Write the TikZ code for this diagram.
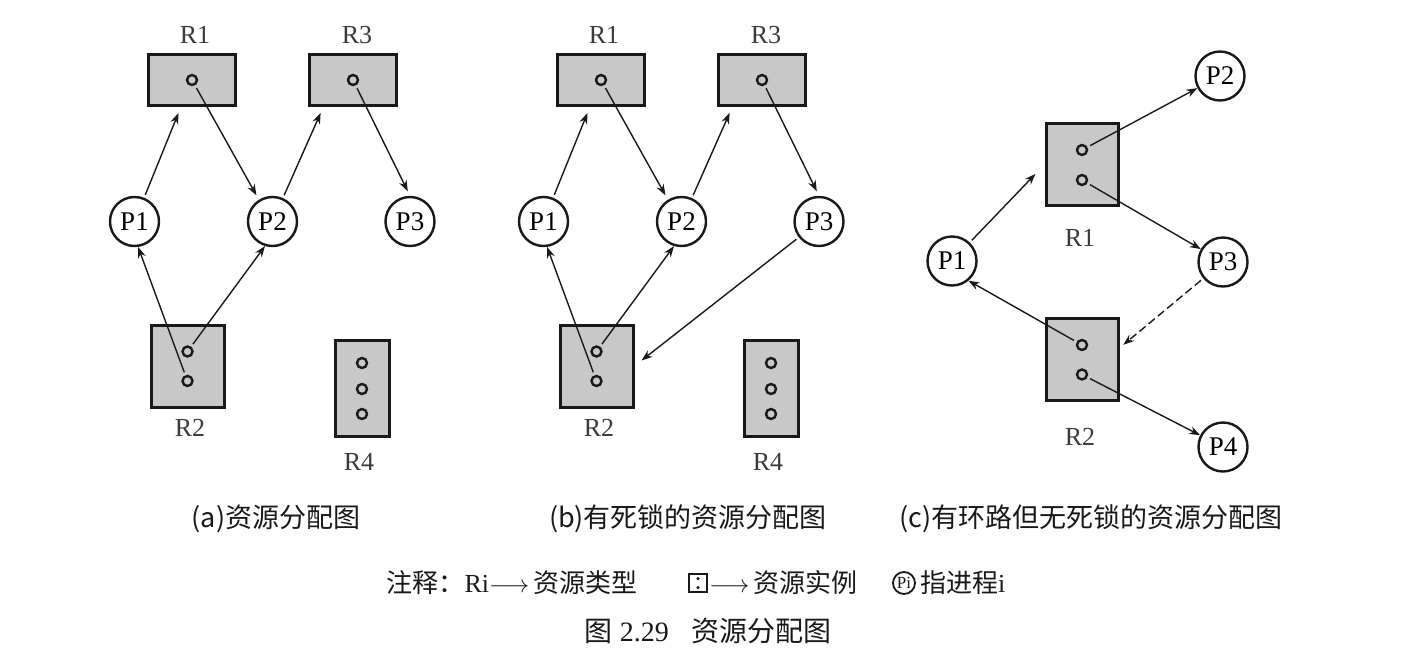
\documentclass[tikz,border=0pt]{standalone}
\usepackage{fontspec}
\setmainfont{Liberation Serif}
\newfontfamily\cjk{Noto Sans CJK SC}
\usetikzlibrary{arrows.meta,calc}
\definecolor{resgray}{RGB}{200,200,200}
\definecolor{ink}{RGB}{25,25,25}
\begin{document}
\begin{tikzpicture}[x=1pt,y=-1pt,
  res/.style={draw=ink,line width=3pt,fill=resgray,inner sep=0pt},
  resA/.style={res,minimum width=87pt,minimum height=51pt},
  resB/.style={res,minimum width=73pt,minimum height=82pt},
  resC/.style={res,minimum width=54pt,minimum height=96pt},
  resD/.style={res,minimum width=72pt,minimum height=82pt},
  proc/.style={draw=ink,line width=2.4pt,circle,minimum size=49pt,inner sep=0pt,fill=white,font=\fontsize{27}{27}\selectfont},
  inst/.style={draw=ink,line width=2.4pt,circle,minimum size=10pt,inner sep=0pt},
  lab/.style={text=ink!85,font=\fontsize{26}{26}\selectfont},
  subcap/.style={text=ink,font=\fontsize{27}{27}\selectfont\cjk},
  arr/.style={draw=ink,line width=1.4pt,shorten <=3pt,-{Stealth[length=11pt,width=8pt]}},
]
\fill[white] (0,0) rectangle (1417,662);
\useasboundingbox (0,0) rectangle (1417,662);

% ---------------- (a) ----------------
\node[resA] (aR1) at (192,79.5) {};
\node[resA] (aR3) at (352.5,79.5) {};
\node[resB] (aR2) at (187.5,366) {};
\node[resC] (aR4) at (362,388) {};
\node[inst] (aR1d) at (192,80) {};
\node[inst] (aR3d) at (353,80) {};
\node[inst] (aR2a) at (187.5,351.5) {};
\node[inst] (aR2b) at (187.5,381) {};
\node[inst] (aR4a) at (362,363) {};
\node[inst] (aR4b) at (362,389) {};
\node[inst] (aR4c) at (362,414) {};
\node[proc] (aP1) at (134.5,221.5) {P1};
\node[proc] (aP2) at (272.5,221.5) {P2};
\node[proc] (aP3) at (410,221.5) {P3};
\node[lab] (aL1) at (195,35) {R1};
\node[lab] (aL3) at (357,35) {R3};
\node[lab] (aL2) at (190,428) {R2};
\node[lab] (aL4) at (359,462) {R4};
\draw[arr,shorten >=7pt] (aP1) -- (aR1);
\draw[arr,shorten >=5pt] (aR1d) -- (aP2.122);
\draw[arr,shorten >=7pt] (aP2) -- ([xshift=16pt]aR3.south west);
\draw[arr,shorten >=5pt] (aR3d) -- (aP3.north);
\draw[arr] (aR2b) -- (aP1.-82);
\draw[arr] (aR2a) -- (aP2.-107);

% ---------------- (b) ----------------
\node[resA] (bR1) at (601,79.5) {};
\node[resA] (bR3) at (761.5,79.5) {};
\node[resB] (bR2) at (596.5,366) {};
\node[resC] (bR4) at (771,388) {};
\node[inst] (bR1d) at (601,80) {};
\node[inst] (bR3d) at (762,80) {};
\node[inst] (bR2a) at (596.5,351.5) {};
\node[inst] (bR2b) at (596.5,381) {};
\node[inst] (bR4a) at (771,363) {};
\node[inst] (bR4b) at (771,389) {};
\node[inst] (bR4c) at (771,414) {};
\node[proc] (bP1) at (543.5,221.5) {P1};
\node[proc] (bP2) at (681.5,221.5) {P2};
\node[proc] (bP3) at (819,221.5) {P3};
\node[lab] (bL1) at (604,35) {R1};
\node[lab] (bL3) at (766,35) {R3};
\node[lab] (bL2) at (599,428) {R2};
\node[lab] (bL4) at (768,462) {R4};
\draw[arr,shorten >=7pt] (bP1) -- (bR1);
\draw[arr,shorten >=5pt] (bR1d) -- (bP2.122);
\draw[arr,shorten >=7pt] (bP2) -- ([xshift=16pt]bR3.south west);
\draw[arr,shorten >=5pt] (bR3d) -- (bP3.north);
\draw[arr] (bR2b) -- (bP1.-82);
\draw[arr] (bR2a) -- (bP2.-107);
\draw[arr,shorten >=9pt] (bP3) -- (bR2.east);

% ---------------- (c) ----------------
\node[resD] (cR1) at (1082,164.5) {};
\node[resD] (cR2) at (1082,359) {};
\node[inst] (cR1a) at (1082,150) {};
\node[inst] (cR1b) at (1082,180) {};
\node[inst] (cR2a) at (1082,345) {};
\node[inst] (cR2b) at (1082,374.5) {};
\node[proc] (cP1) at (952,261) {P1};
\node[proc] (cP2) at (1220,76) {P2};
\node[proc] (cP3) at (1223,262) {P3};
\node[proc] (cP4) at (1223,447) {P4};
\node[lab] (cL1) at (1080,238) {R1};
\node[lab] (cL2) at (1080,437) {R2};
\draw[arr,shorten >=13pt] (cP1) -- (cR1.west);
\draw[arr] (cR1a) -- (cP2);
\draw[arr] (cR1b) -- (cP3);
\draw[arr,dash pattern=on 8pt off 4pt,shorten >=5pt] (cP3) -- ([yshift=11pt]cR2.east);
\draw[arr] (cR2a) -- (cP1.-50);
\draw[arr] (cR2b) -- (cP4);

% ---------------- captions ----------------
\node[subcap] (capA) at (276,519) {(a)资源分配图};
\node[subcap] (capB) at (688,519) {(b)有死锁的资源分配图};
\node[subcap] (capC) at (1091,519) {(c)有环路但无死锁的资源分配图};

% ---------------- legend ----------------
\node[anchor=west,text=ink,font=\fontsize{26}{26}\selectfont] (leg1) at (383,583)
  {{\cjk 注释：}Ri$\longrightarrow$\,{\cjk 资源类型}};
\node[draw=ink,line width=2.4pt,minimum size=18pt,inner sep=0pt] (lbox) at (698,583) {};
\node[circle,fill=ink,minimum size=3.5pt,inner sep=0pt] (lboxd1) at (698,578.5) {};
\node[circle,fill=ink,minimum size=3.5pt,inner sep=0pt] (lboxd2) at (698,587.5) {};
\node[anchor=west,text=ink,font=\fontsize{26}{26}\selectfont,inner sep=0pt] (leg2) at ([xshift=1pt]lbox.east)
  {$\longrightarrow$\,{\cjk 资源实例}};
\node[circle,draw=ink,line width=1.8pt,minimum size=22pt,inner sep=0pt,text=ink,font=\fontsize{17}{17}\selectfont] (lpi) at (904,583) {Pi};
\node[anchor=west,text=ink,font=\fontsize{26}{26}\selectfont,inner sep=0pt] (leg3) at (920,583)
  {{\cjk 指进程}i};
\node[text=ink,font=\fontsize{28}{28}\selectfont] (fig) at (708,631)
  {{\cjk 图} 2.29\hspace{0.8em}{\cjk 资源分配图}};
\end{tikzpicture}
\end{document}
